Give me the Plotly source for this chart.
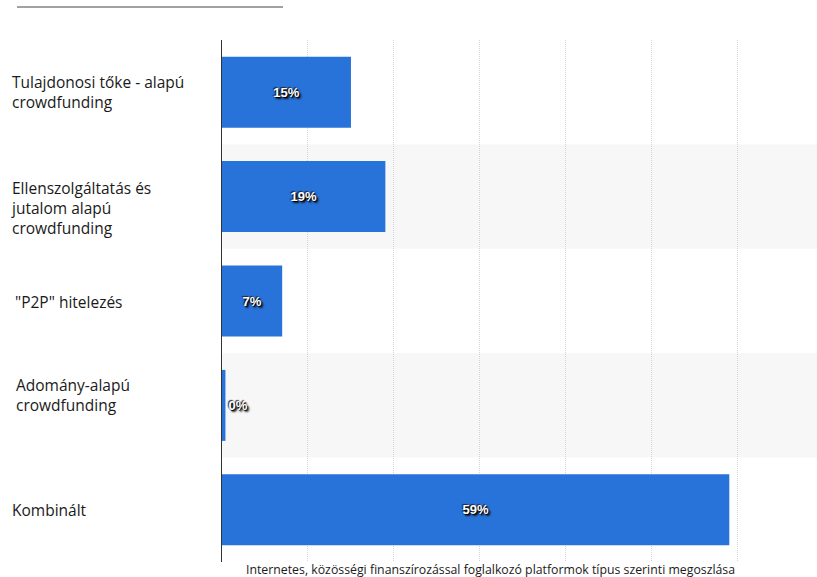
import plotly.graph_objects as go

categories = [
    "Tulajdonosi tőke - alapú<br>crowdfunding",
    "Ellenszolgáltatás és<br>jutalom alapú<br>crowdfunding",
    "\"P2P\" hitelezés",
    "Adomány-alapú<br>crowdfunding",
    "Kombinált",
]
values = [15, 19, 7, 0.4, 59]
bar_labels = ["15%", "19%", "7%", "0%", "59%"]
x_title = "Internetes, közösségi finanszírozással foglalkozó platformok típus szerinti megoszlása"

W, H = 817, 577
ML, MR, MT, MB = 222, 0, 40, 15
PW, PH = W - ML - MR, H - MT - MB

def px_x(p):
    return (p - ML) / PW

def px_y(p):
    return (H - MB - p) / PH

ids = list(range(len(categories)))

fig = go.Figure()
fig.add_trace(go.Bar(
    x=values, y=ids, orientation="h",
    marker=dict(color="#2873d9", line=dict(width=0)),
    width=0.68,
    text=bar_labels,
    textposition=["inside", "inside", "inside", "outside", "inside"],
    insidetextanchor="middle",
    constraintext="none",
    cliponaxis=False,
    textfont=dict(family="Liberation Sans", size=13, color="white", weight="bold",
                  shadow="1px 1px 1px #000, 2px 2px 2px #111, -1px -1px 1px #223"),
    hoverinfo="skip",
))

shapes = []
for i in ids:
    if i % 2 == 1:
        shapes.append(dict(type="rect", xref="paper", yref="y", x0=0, x1=1,
                           y0=i - 0.5, y1=i + 0.5, fillcolor="#f7f7f7",
                           line=dict(width=0), layer="below"))
shapes.append(dict(type="line", xref="paper", yref="paper",
                   x0=px_x(17), x1=px_x(283), y0=px_y(7), y1=px_y(7),
                   line=dict(color="#444", width=1)))

annotations = []
label_dx = [10, 9, 13, 14, 10]
label_dy = [0, -11, -1, 10, 0]
for i, c in enumerate(categories):
    annotations.append(dict(
        text=c, xref="paper", yref="y", x=px_x(label_dx[i]), y=i,
        xanchor="left", yanchor="middle", align="left", showarrow=False,
        yshift=label_dy[i],
        font=dict(family="Open Sans", size=15.5, color="#1a1a1a"),
    ))
annotations.append(dict(
    text=x_title, xref="paper", yref="paper", x=px_x(490), y=px_y(579),
    xanchor="center", yanchor="bottom", showarrow=False, borderpad=0,
    font=dict(family="Open Sans", size=12.3, color="#1a1a1a"),
))

fig.update_layout(
    width=W, height=H,
    margin=dict(l=ML, r=MR, t=MT, b=MB),
    paper_bgcolor="white", plot_bgcolor="white",
    showlegend=False,
    shapes=shapes, annotations=annotations,
    xaxis=dict(range=[0, 69.2], dtick=10, showticklabels=False,
               showgrid=True, gridcolor="#d4d4d4", griddash="1px,1px", gridwidth=1,
               zeroline=False, showline=False, ticks=""),
    yaxis=dict(range=[4.5, -0.5], showticklabels=False, showgrid=False,
               zeroline=False, showline=True, linecolor="#333", linewidth=1,
               ticks=""),
)

fig.write_html("out.html", config={"displayModeBar": False},
               post_script="document.body.style.margin='0';document.body.style.overflow='hidden';")
